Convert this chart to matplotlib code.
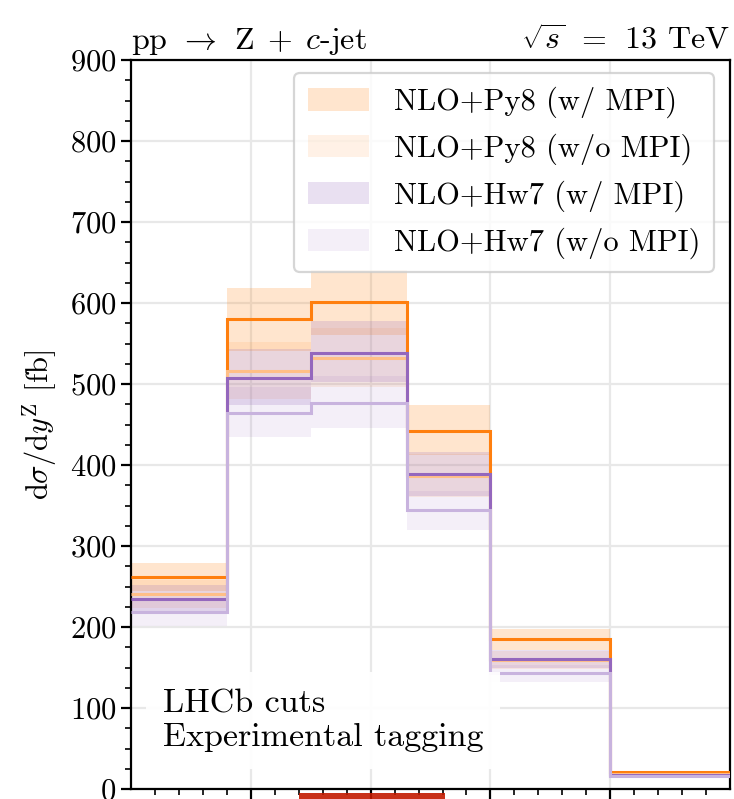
import numpy as np
import matplotlib
matplotlib.use("Agg")
import matplotlib.pyplot as plt

plt.rcParams["font.family"] = "serif"
plt.rcParams["font.serif"] = ["cmr10"]
plt.rcParams["mathtext.fontset"] = "cm"
plt.rcParams["axes.formatter.use_mathtext"] = True

# rapidity bins of the Z boson
edges = [2.0, 2.4, 2.75, 3.15, 3.5, 4.0, 4.5]

# NLO+Py8 with MPI
py8_mpi = [262, 580, 601, 442, 185, 20.5]
py8_mpi_lo = [244, 541, 560, 412, 172, 19.0]
py8_mpi_hi = [279, 619, 641, 474, 198, 22.0]

# NLO+Py8 without MPI
py8_nompi = [241, 516, 532, 386, 159, 18.0]
py8_nompi_lo = [224, 481, 496, 360, 148, 16.8]
py8_nompi_hi = [258, 552, 569, 413, 170, 19.3]

# NLO+Hw7 with MPI
hw7_mpi = [235, 508, 538, 389, 161, 17.7]
hw7_mpi_lo = [219, 474, 502, 362, 150, 16.5]
hw7_mpi_hi = [252, 543, 578, 416, 172, 19.0]

# NLO+Hw7 without MPI
hw7_nompi = [218, 464, 477, 344, 143, 16.0]
hw7_nompi_lo = [201, 434, 446, 320, 132, 14.9]
hw7_nompi_hi = [233, 496, 510, 368, 153, 17.2]

labels = ["NLO+Py8 (w/ MPI)", "NLO+Py8 (w/o MPI)",
          "NLO+Hw7 (w/ MPI)", "NLO+Hw7 (w/o MPI)"]

# top of the lower panel content that pokes into view
red_x = [2.70, 3.31]

orange = "tab:orange"
purple = "tab:purple"

fig = plt.figure(figsize=(7.34, 7.99), dpi=100)
ax = fig.add_axes([0.1785, 0.0125, 0.8161, 0.9124])

# (central, low, high, band colour, band alpha, line colour)
series = [
    (py8_mpi, py8_mpi_lo, py8_mpi_hi, orange, 0.2, orange),
    (py8_nompi, py8_nompi_lo, py8_nompi_hi, orange, 0.1, "#ffbf87"),
    (hw7_mpi, hw7_mpi_lo, hw7_mpi_hi, purple, 0.2, purple),
    (hw7_nompi, hw7_nompi_lo, hw7_nompi_hi, purple, 0.1, "#c8b3de"),
]

handles = []
for (c, lo, hi, col, band_a, line_col), lab in zip(series, labels):
    h = ax.stairs(hi, edges, baseline=lo, fill=True, color=col,
                  alpha=band_a, linewidth=0, label=lab, zorder=2)
    handles.append(h)
for c, lo, hi, col, band_a, line_col in series:
    ax.stairs(c, edges, baseline=None, color=line_col, linewidth=2.2,
              zorder=3)

ax.set_xlim(2.0, 4.5)
ax.set_ylim(0, 900)
ax.set_xticks([2.5, 3.0, 3.5, 4.0])
ax.set_xticks(np.arange(2.1, 4.5, 0.1), minor=True)
ax.set_yticks(np.arange(0, 901, 100))
ax.set_yticks(np.arange(0, 901, 25), minor=True)
ax.tick_params(axis="x", labelbottom=False)
ax.tick_params(which="major", length=7, width=1.6, labelsize=22)
ax.tick_params(which="minor", length=4.5, width=1.2)
for sp in ax.spines.values():
    sp.set_linewidth(1.6)

ax.set_axisbelow(True)
ax.grid(True, which="major", color="#e8e8e8", linewidth=1.6)

ax.set_ylabel(r"$\mathrm{d}\sigma/\mathrm{d}y^{\mathrm{Z}}$ [fb]", fontsize=22,
              labelpad=8)
ax.set_title(r"$\mathrm{pp}\;\,\rightarrow\;\,\mathrm{Z}\;+\;c$-jet",
             loc="left", fontsize=23, pad=8)
ax.set_title(r"$\sqrt{s}\;\,=\;\,13$ TeV", loc="right", fontsize=23, pad=8)

leg = ax.legend(handles=handles, loc="upper right", fontsize=22,
                frameon=True, framealpha=0.8, edgecolor="#cccccc",
                handlelength=2.0, handleheight=0.75, labelspacing=0.5,
                borderpad=0.45, handletextpad=0.8, borderaxespad=0,
                bbox_to_anchor=(0.973, 0.982))
leg.get_frame().set_linewidth(1.6)

ax.text(0.053, 0.051, "LHCb cuts\nExperimental tagging",
        transform=ax.transAxes, fontsize=24.5, ha="left", va="bottom",
        linespacing=1.2,
        bbox=dict(facecolor="white", edgecolor="none", alpha=0.95, pad=12),
        zorder=4)

# lower panel, mostly outside the canvas
ax2 = fig.add_axes([0.1785, -0.2, 0.8161, 0.2075], sharex=ax)
ax2.fill_between(red_x, 0, 1, color="#c21a00", alpha=0.9, linewidth=0)
ax2.set_ylim(0, 1)
ax2.axis("off")

fig.savefig("out.png", dpi=100)
